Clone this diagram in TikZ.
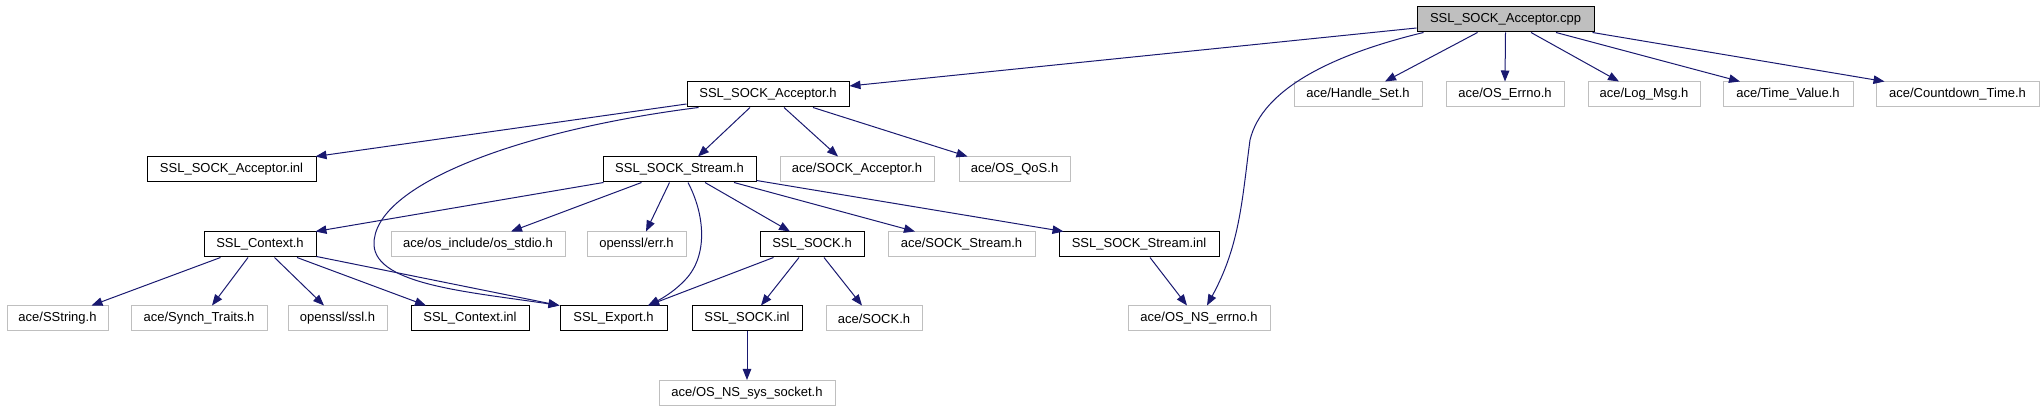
\documentclass[tikz,border=0pt]{standalone}
\usepackage{fontspec}
\setmainfont{Liberation Sans}
\usetikzlibrary{arrows.meta,calc}
\definecolor{edgec}{HTML}{191970}
\definecolor{gline}{HTML}{BFBFBF}
\definecolor{gfill}{HTML}{BFBFBF}
\begin{document}
\begin{tikzpicture}[x=1pt,y=-1pt,
  box/.style={line width=1pt, inner sep=0pt, minimum height=25pt, font=\fontsize{13pt}{15pt}\selectfont, text=black},
  doc/.style={box, draw=black},
  ext/.style={box, draw=gline},
  root/.style={box, draw=black, fill=gfill},
  dep/.style={draw=edgec, line width=1pt, -{Triangle[length=11pt,width=8.5pt]}, fill=none}]
\useasboundingbox (0,0) rectangle (2043,411);
% row 0
\node[root, minimum width=177pt] (cpp) at (1505.5,19.5) {SSL\_SOCK\_Acceptor.cpp};
% row 1
\node[doc, minimum width=162pt] (acch) at (768,94.5) {SSL\_SOCK\_Acceptor.h};
\node[ext, minimum width=128pt] (handle) at (1358,94.5) {ace/Handle\_Set.h};
\node[ext, minimum width=118pt] (oserrno) at (1505,94.5) {ace/OS\_Errno.h};
\node[ext, minimum width=112pt] (logmsg) at (1644,94.5) {ace/Log\_Msg.h};
\node[ext, minimum width=130pt] (timevalue) at (1788,94.5) {ace/Time\_Value.h};
\node[ext, minimum width=163pt] (countdown) at (1957.5,94.5) {ace/Countdown\_Time.h};
% row 2
\node[doc, minimum width=169pt] (accinl) at (231.5,169.5) {SSL\_SOCK\_Acceptor.inl};
\node[doc, minimum width=153pt] (streamh) at (679.5,169.5) {SSL\_SOCK\_Stream.h};
\node[ext, minimum width=154pt] (sockacc) at (857,169.5) {ace/SOCK\_Acceptor.h};
\node[ext, minimum width=111pt] (qos) at (1014.5,169.5) {ace/OS\_QoS.h};
% row 3
\node[doc, minimum width=112pt] (ctxh) at (260,244.5) {SSL\_Context.h};
\node[ext, minimum width=174pt] (stdio) at (478,244.5) {ace/os\_include/os\_stdio.h};
\node[ext, minimum width=99pt] (err) at (636.5,244.5) {openssl/err.h};
\node[doc, minimum width=104pt] (sockh) at (812,244.5) {SSL\_SOCK.h};
\node[ext, minimum width=147pt] (sockstream) at (961.5,244.5) {ace/SOCK\_Stream.h};
\node[doc, minimum width=160pt] (streaminl) at (1139,244.5) {SSL\_SOCK\_Stream.inl};
% row 4
\node[ext, minimum width=101pt] (sstring) at (57.5,318.5) {ace/SString.h};
\node[ext, minimum width=136pt] (synch) at (199,318.5) {ace/Synch\_Traits.h};
\node[ext, minimum width=99pt] (ssl) at (337.5,318.5) {openssl/ssl.h};
\node[doc, minimum width=118pt] (ctxinl) at (470,318.5) {SSL\_Context.inl};
\node[doc, minimum width=107pt] (export) at (613.5,318.5) {SSL\_Export.h};
\node[doc, minimum width=110pt] (sockinl) at (747,318.5) {SSL\_SOCK.inl};
\node[ext, minimum width=96pt] (sock) at (874,318.5) {ace/SOCK.h};
\node[ext, minimum width=142pt] (nserrno) at (1199,318.5) {ace/OS\_NS\_errno.h};
% row 5
\node[ext, minimum width=176pt] (socket) at (747,393) {ace/OS\_NS\_sys\_socket.h};

% edges from cpp
\draw[dep] ($(cpp.west)+(0,8.5)$) -- ($(acch.east)+(0,-8.5)$);
\draw[dep] ($(cpp.south west)+(7,0)$) .. controls (1330,55) and (1262,90) .. (1250,140)
   .. controls (1242,200) and (1240,245) .. ($(nserrno.north)+(8,0)$);
\draw[dep] ($(cpp.south)+(-28,0)$) -- ($(handle.north)+(27,0)$);
\draw[dep] (cpp.south) -- (oserrno.north);
\draw[dep] ($(cpp.south)+(25.5,0)$) -- ($(logmsg.north)+(-25,0)$);
\draw[dep] ($(cpp.south)+(50.5,0)$) -- ($(timevalue.north)+(-48,0)$);
\draw[dep] ($(cpp.south east)+(-2,0)$) -- ($(countdown.north west)+(9,0)$);
% edges from acch
\draw[dep] ($(acch.west)+(0,9.5)$) -- ($(accinl.north east)+(-1,0)$);
\draw[dep] ($(acch.south west)+(12,0)$) .. controls (520,130) and (372,185) .. (374,245)
   .. controls (376,285) and (470,292) .. (export.north west);
\draw[dep] ($(acch.south)+(-18,0)$) -- ($(streamh.north)+(18.5,0)$);
\draw[dep] ($(acch.south)+(16,0)$) -- ($(sockacc.north)+(-19,0)$);
\draw[dep] ($(acch.south)+(45,0)$) -- ($(qos.north west)+(9,0)$);
% edges from streamh
\draw[dep] ($(streamh.south west)+(1,0)$) -- ($(ctxh.north east)+(-1,0)$);
\draw[dep] ($(streamh.south west)+(39,0)$) -- ($(stdio.north)+(33,0)$);
\draw[dep] ($(streamh.south)+(-10,0)$) -- ($(err.north)+(9.5,0)$);
\draw[dep] ($(streamh.south)+(8.5,0)$) .. controls (705,215) and (708,255) .. (686,279)
   .. controls (674,292) and (661,299) .. ($(export.north)+(34.5,0)$);
\draw[dep] ($(streamh.south)+(25.5,0)$) -- ($(sockh.north)+(-22,0)$);
\draw[dep] ($(streamh.south)+(54.5,0)$) -- ($(sockstream.north)+(-46.5,0)$);
\draw[dep] ($(streamh.east)+(0,11)$) -- ($(streaminl.north west)+(5,0)$);
% edges from ctxh
\draw[dep] ($(ctxh.south west)+(17,0)$) -- ($(sstring.north)+(34,0)$);
\draw[dep] ($(ctxh.south)+(-12,0)$) -- ($(synch.north)+(13,0)$);
\draw[dep] ($(ctxh.south)+(14.5,0)$) -- ($(ssl.north)+(-13.5,0)$);
\draw[dep] ($(ctxh.south)+(37,0)$) -- ($(ctxinl.north)+(-44,0)$);
\draw[dep] ($(ctxh.south east)+(0,-1)$) -- (export.north west);
% edges from sockh
\draw[dep] ($(sockh.south west)+(14,0)$) -- ($(export.north)+(34.5,0)$);
\draw[dep] ($(sockh.south)+(-13,0)$) -- ($(sockinl.north)+(14,0)$);
\draw[dep] ($(sockh.south)+(12,0)$) -- ($(sock.north)+(-12,0)$);
% others
\draw[dep] ($(streaminl.south)+(11,0)$) -- ($(nserrno.north)+(-12,0)$);
\draw[dep] (sockinl.south) -- (socket.north);
\end{tikzpicture}
\end{document}
